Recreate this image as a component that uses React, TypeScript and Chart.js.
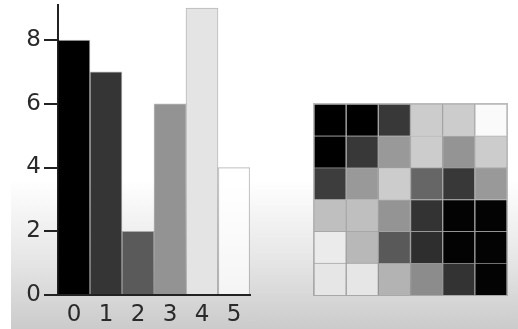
import React, { useEffect, useRef } from "react";
import { Chart, registerables } from "chart.js";

Chart.register(...registerables);

const barLabels = ["0", "1", "2", "3", "4", "5"];
const barValues = [8, 7, 2, 6, 9, 4];
const barColors = ["#000000", "#353535", "#5a5a5a", "#939393", "#e4e4e4", "rgba(255,255,255,0.72)"];
const yTickValues = [0, 2, 4, 6, 8];

// grayscale levels (0 = black, 1 = white), rows top to bottom
const heatRows = [
  [0.0, 0.0, 0.22, 0.8, 0.8, 0.98],
  [0.0, 0.22, 0.6, 0.8, 0.58, 0.8],
  [0.24, 0.6, 0.8, 0.4, 0.22, 0.6],
  [0.75, 0.75, 0.58, 0.2, 0.01, 0.01],
  [0.92, 0.72, 0.35, 0.18, 0.01, 0.01],
  [0.9, 0.9, 0.7, 0.55, 0.2, 0.01],
];
const heatCols = ["0", "1", "2", "3", "4", "5"];

const gray = (v: number) => {
  const g = Math.round(v * 255);
  return `rgb(${g},${g},${g})`;
};

export default function App() {
  const barRef = useRef<HTMLCanvasElement>(null);
  const heatRef = useRef<HTMLCanvasElement>(null);

  useEffect(() => {
    document.body.style.margin = "0";
    const font = { family: "DejaVu Sans", size: 23 };
    const bar = new Chart(barRef.current!, {
      type: "bar",
      data: {
        labels: barLabels,
        datasets: [
          {
            data: barValues,
            backgroundColor: barColors,
            borderColor: "rgba(0,0,0,0.28)",
            borderWidth: 1,
            barPercentage: 1,
            categoryPercentage: 1,
          },
        ],
      },
      options: {
        animation: false,
        responsive: false,
        maintainAspectRatio: false,
        layout: { padding: { top: 5, right: 10, left: 0, bottom: 0 } },
        plugins: { legend: { display: false }, tooltip: { enabled: false } },
        scales: {
          x: {
            grid: { display: false, drawTicks: false },
            border: { display: true, color: "#222", width: 2 },
            ticks: { color: "#2a2a2a", font, padding: 6 },
            afterFit: (s: any) => {
              s.height = 34;
              s.paddingLeft = 0;
              s.paddingRight = 0;
            },
          },
          y: {
            min: 0,
            max: 9.1,
            grid: { drawOnChartArea: false, drawTicks: true, tickLength: 14, color: "#222", lineWidth: 2 },
            border: { display: true, color: "#222", width: 2 },
            ticks: { color: "#2a2a2a", font, padding: 3 },
            afterBuildTicks: (s: any) => {
              s.ticks = yTickValues.map((v) => ({ value: v }));
            },
            afterFit: (s: any) => {
              s.width = 58;
              s.paddingTop = 0;
              s.paddingBottom = 0;
            },
          },
        },
      },
    });

    const rowsBottomUp = [...heatRows].reverse();
    const heat = new Chart(heatRef.current!, {
      type: "bar",
      data: {
        labels: heatCols,
        datasets: rowsBottomUp.map((row) => ({
          data: row.map(() => 1),
          backgroundColor: row.map(gray),
          borderColor: "rgba(90,90,90,0.45)",
          borderWidth: 1,
          barPercentage: 1,
          categoryPercentage: 1,
        })),
      },
      options: {
        animation: false,
        responsive: false,
        maintainAspectRatio: false,
        layout: { padding: 0 },
        plugins: { legend: { display: false }, tooltip: { enabled: false } },
        scales: {
          x: { display: false, stacked: true },
          y: { display: false, stacked: true, min: 0, max: 6 },
        },
      },
    });

    return () => {
      bar.destroy();
      heat.destroy();
    };
  }, []);

  return (
    <div style={{ position: "absolute", left: 0, top: 0, width: 518, height: 329, background: "#fff", overflow: "hidden" }}>
      <div
        style={{
          position: "absolute",
          left: 11,
          top: 0,
          width: 507,
          height: 329,
          background: "linear-gradient(to bottom, #ffffff 0px, #ffffff 180px, #e6e6e6 260px, #cbcbcb 329px)",
        }}
      />
      <div style={{ position: "absolute", left: 0, top: 0, width: 260, height: 329 }}>
        <canvas ref={barRef} width={260} height={329} style={{ width: 260, height: 329 }} />
      </div>
      <div style={{ position: "absolute", left: 313, top: 103, width: 195, height: 193, border: "1px solid rgba(120,120,120,0.5)", boxSizing: "border-box" }}>
        <canvas ref={heatRef} width={193} height={191} style={{ width: 193, height: 191 }} />
      </div>
    </div>
  );
}
